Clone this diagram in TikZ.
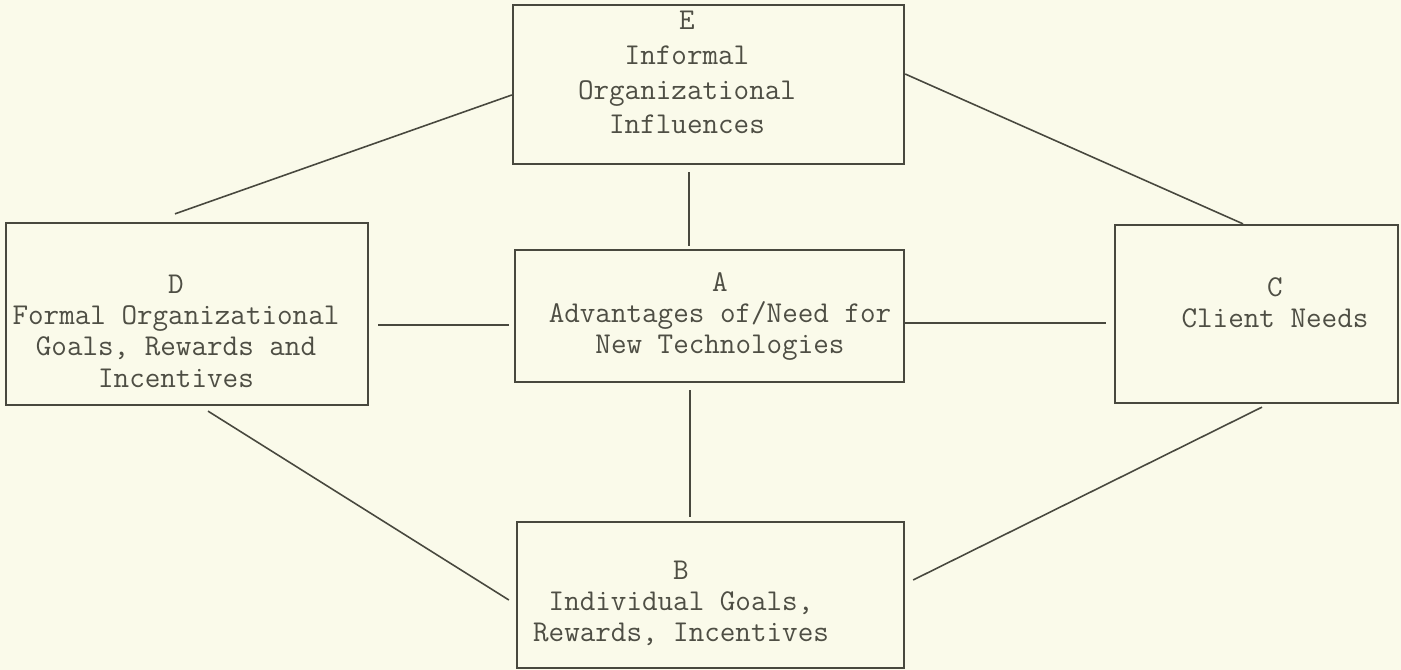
\documentclass[tikz,border=0pt]{standalone}
\usepackage{fontspec}
\usepackage{xcolor}
\definecolor{paper}{RGB}{250,250,234}
\definecolor{ink}{RGB}{72,72,62}
\definecolor{typed}{RGB}{78,78,68}

\begin{document}
\begin{tikzpicture}[
        box/.style={draw=ink, line width=1.3pt, inner sep=0pt},
        lbl/.style={font=\ttfamily\fontsize{17.2}{17.8}\selectfont, text=typed, align=center, inner sep=0pt},
        link/.style={draw=ink, line width=0.9pt}
    ]
        \fill[paper] (0,0) rectangle (28.02,13.4);
        \useasboundingbox (0,0) rectangle (28.02,13.4);
        \node[box, minimum width=7.82cm, minimum height=3.18cm](e) at (14.17,11.71) {};
        \node[box, minimum width=7.24cm, minimum height=3.64cm](d) at (3.74,7.12) {};
        \node[box, minimum width=7.78cm, minimum height=2.64cm](a) at (14.19,7.08) {};
        \node[box, minimum width=5.66cm, minimum height=3.56cm](c) at (25.13,7.12) {};
        \node[box, minimum width=7.74cm, minimum height=2.92cm](b) at (14.21,1.5) {};
        \node[lbl](et) at (13.74,11.95) {E\\[2pt]Informal\\[2pt]Organizational\\[2pt]Influences};
        \node[lbl](dt) at (3.52,6.78) {D\\Formal Organizational\\Goals, Rewards and\\Incentives};
        \node[lbl](at) at (14.4,7.07) {A\\Advantages of/Need for\\New Technologies};
        \node[lbl](ct) at (25.5,7.35) {C\\Client Needs};
        \node[lbl](bt) at (13.62,1.33) {B\\Individual Goals,\\Rewards, Incentives};
        \draw[link]([xshift=-0.24cm,yshift=0.16cm]d.north)--([yshift=-0.21cm]e.west);
        \draw[link]([yshift=0.21cm]e.east)--([xshift=-0.27cm]c.north);
        \draw[link]([xshift=-0.39cm,yshift=-0.14cm]e.south)--([xshift=-0.41cm,yshift=0.06cm]a.north);
        \draw[link]([xshift=0.18cm,yshift=-0.22cm]d.east)--([xshift=-0.1cm,yshift=-0.18cm]a.west);
        \draw[link]([yshift=-0.14cm]a.east)--([xshift=-0.16cm,yshift=-0.18cm]c.west);
        \draw[link]([xshift=-0.39cm,yshift=-0.14cm]a.south)--([xshift=-0.41cm,yshift=0.08cm]b.north);
        \draw[link]([xshift=0.42cm,yshift=-0.1cm]d.south)--([xshift=-0.14cm,yshift=-0.1cm]b.west);
        \draw[link]([xshift=0.11cm,yshift=-0.06cm]c.south)--([xshift=0.16cm,yshift=0.3cm]b.east);
        \end{tikzpicture}
\end{document}
